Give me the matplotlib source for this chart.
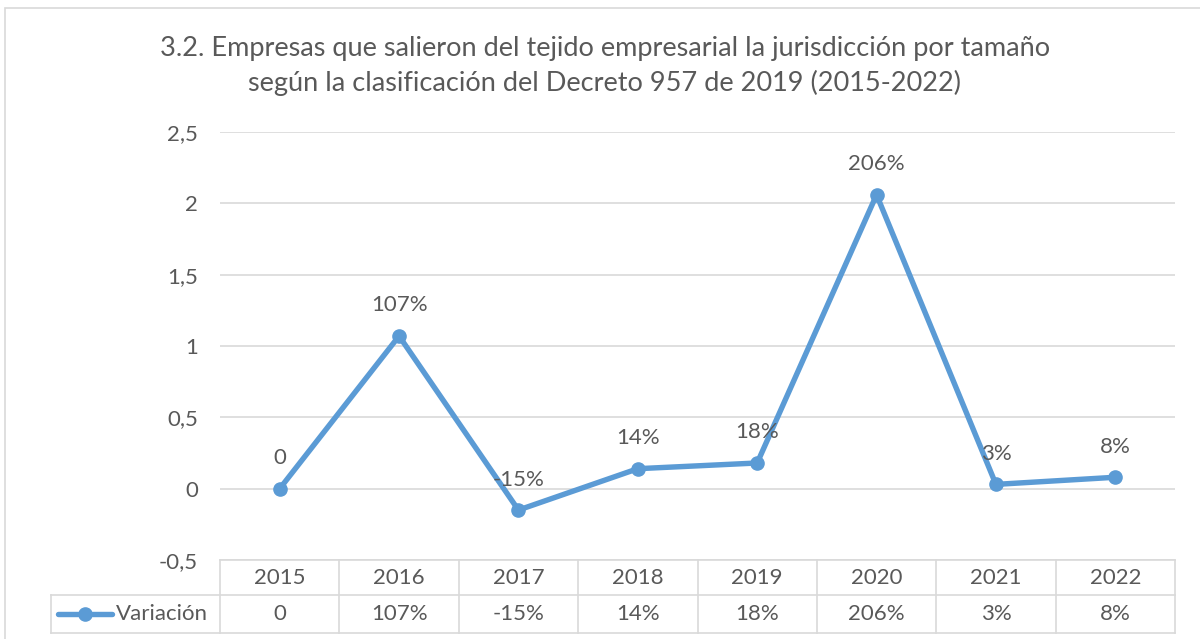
import matplotlib
matplotlib.use("Agg")
import matplotlib.pyplot as plt
from matplotlib.patches import Rectangle
from matplotlib.lines import Line2D

# datos del gráfico
years = ["2015", "2016", "2017", "2018", "2019", "2020", "2021", "2022"]
variacion = [0, 1.07, -0.15, 0.14, 0.18, 2.06, 0.03, 0.08]
labels = ["0", "107%", "-15%", "14%", "18%", "206%", "3%", "8%"]
yticks = [-0.5, 0, 0.5, 1, 1.5, 2, 2.5]
ytick_labels = ["-0,5", "0", "0,5", "1", "1,5", "2", "2,5"]
title = ("3.2. Empresas que salieron del tejido empresarial la jurisdicción por tamaño\n"
         "según la clasificación del Decreto 957 de 2019 (2015-2022)")
serie = "Variación"

plt.rcParams['font.family'] = ['Lato', 'DejaVu Sans']
txt = "#595959"
grid = "#D9D9D9"
azul = "#5B9BD5"
fs = 16

W, H = 1200, 639
fig = plt.figure(figsize=(W / 100, H / 100), dpi=100)

def fx(px):
    return px / W

def fy(py):
    return 1 - py / H

# marco del gráfico
fig.patches.append(Rectangle((fx(5), fy(700)), fx(1250) - fx(5), fy(8) - fy(700),
                             transform=fig.transFigure, fill=False, ec=grid, lw=1.2))

# área de trazado
left, right, top, bottom = 220, 1175, 132, 560
ax = fig.add_axes([fx(left), fy(bottom), fx(right - left), fy(top) - fy(bottom)])
x = list(range(len(years)))
ax.plot(x, variacion, color=azul, lw=3.9, marker="o", ms=9.5, solid_capstyle="round", zorder=3)
for xi, v, lab in zip(x, variacion, labels):
    ax.annotate(lab, (xi, v), xytext=(0, 22), textcoords="offset points",
                ha="center", va="center", fontsize=fs, color=txt)
ax.set_xlim(-0.5, len(years) - 0.5)
ax.set_ylim(-0.5, 2.5)
ax.set_yticks(yticks)
ax.set_yticklabels(ytick_labels, fontsize=fs, color=txt)
ax.set_xticks([])
ax.tick_params(axis="y", length=0, pad=16)
ax.grid(axis="y", color=grid, lw=1.2)
ax.set_axisbelow(True)
for s in ax.spines.values():
    s.set_visible(False)

fig.text(fx(605), fy(66), title, ha="center", va="center", fontsize=19.5,
         color=txt, linespacing=1.38)

# tabla de datos
tl = 51
t_top, t_mid, t_bot = 560, 595, 633
tab = fig.add_axes([fx(tl), fy(t_bot), fx(right - tl), fy(t_top) - fy(t_bot)])
tab.set_xlim(tl, right)
tab.set_ylim(t_bot, t_top)
tab.axis("off")
cw = (right - left) / len(years)
kw = dict(color=grid, lw=1.2, clip_on=False)
tab.plot([left, right], [t_top, t_top], **kw)
tab.plot([tl, right], [t_mid, t_mid], **kw)
tab.plot([tl, right], [t_bot, t_bot], **kw)
tab.plot([tl, tl], [t_mid, t_bot], **kw)
for i in range(len(years) + 1):
    tab.plot([left + i * cw] * 2, [t_top, t_bot], **kw)
for i, (yr, lab) in enumerate(zip(years, labels)):
    cx = left + (i + 0.5) * cw
    tab.text(cx, (t_top + t_mid) / 2, yr, ha="center", va="center", fontsize=fs, color=txt)
    tab.text(cx, (t_mid + t_bot) / 2, lab, ha="center", va="center", fontsize=fs, color=txt)
ym = (t_mid + t_bot) / 2
tab.add_line(Line2D([58, 112], [ym, ym], color=azul, lw=3.9, solid_capstyle="round"))
tab.plot([85], [ym], "o", color=azul, ms=9.5)
tab.text(116, ym, serie, ha="left", va="center", fontsize=fs, color=txt)

fig.savefig("out.png", dpi=100)
